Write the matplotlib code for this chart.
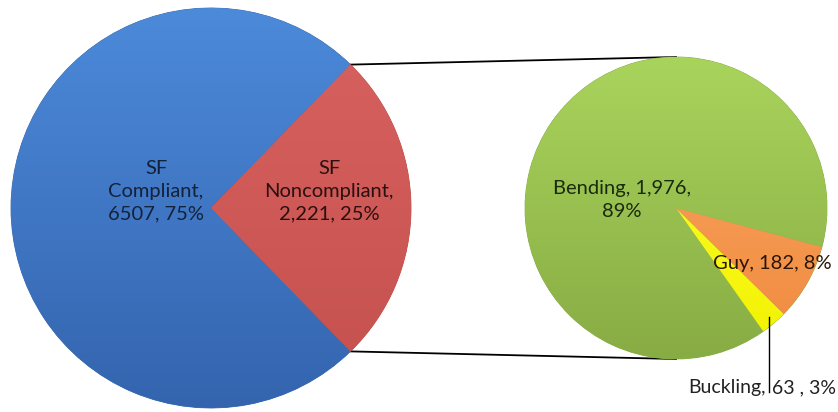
import numpy as np
import matplotlib.pyplot as plt
from matplotlib.colors import LinearSegmentedColormap

# Daten
main_labels = ['SF\nCompliant,\n6507, 75%', 'SF\nNoncompliant,\n2,221, 25%']
main_values = [6507, 2221]
main_colors = ['#4279C6', '#CF5B58']
main_grad = [('#4C8ADA', '#3464AE'), ('#D8625F', '#C4504D')]

sub_names = ['Bending', 'Buckling', 'Guy']
sub_values = [1976, 63, 182]
sub_labels = ['Bending, 1,976,\n89%', 'Buckling, 63 , 3%', 'Guy, 182, 8%']
sub_colors = ['#9CC452', '#FFFF1A', '#F8994E']
sub_grad = [('#A9D45C', '#88AC44'), ('#FFFF3A', '#F2F200'), ('#FAA865', '#F08A3E')]

plt.rcParams['font.family'] = ['Lato', 'DejaVu Sans']

fig = plt.figure(figsize=(8.38, 4.12), dpi=100)
ax = fig.add_axes([0, 0, 1, 1])


def shade(wedge, top, bottom, c, r):
    # vertikaler Verlauf, auf das Tortenstueck geclippt
    cmap = LinearSegmentedColormap.from_list('g', [bottom, top])
    grad = np.linspace(0, 1, 256).reshape(-1, 1)
    ax.imshow(grad, cmap=cmap, origin='lower', aspect='auto',
              extent=[c[0] - r, c[0] + r, c[1] - r, c[1] + r],
              clip_path=wedge, zorder=1.5)


# Linker Kreis: Noncompliant rechts zentriert
frac = main_values[1] / sum(main_values)
left_c, left_r = (211, 204), 200
w1, _ = ax.pie(main_values, colors=main_colors, startangle=180 * frac,
               center=left_c, radius=left_r, frame=True,
               wedgeprops=dict(edgecolor='#3A6AAE', linewidth=0.6))
w1[1].set_edgecolor('#B84C49')
for w, (top, bot) in zip(w1, main_grad):
    shade(w, top, bot, left_c, left_r)

# Rechter Kreis
right_c, right_r = (676, 204), 151
w2, _ = ax.pie(sub_values, colors=sub_colors, startangle=-15,
               center=right_c, radius=right_r, frame=True,
               wedgeprops=dict(edgecolor='#86AB44', linewidth=0.6))
for w, (top, bot) in zip(w2, sub_grad):
    shade(w, top, bot, right_c, right_r)

ax.set_xlim(0, 838)
ax.set_ylim(0, 412)
ax.set_aspect('equal')
ax.axis('off')

# Verbindungslinien
t1 = np.deg2rad(w1[1].theta2)
t2 = np.deg2rad(w1[1].theta1)
p_top = (left_c[0] + left_r * np.cos(t1), left_c[1] + left_r * np.sin(t1))
p_bot = (left_c[0] + left_r * np.cos(t2), left_c[1] + left_r * np.sin(t2))
ax.plot([p_top[0], right_c[0]], [p_top[1], right_c[1] + right_r], color='black', lw=1.3, zorder=0)
ax.plot([p_bot[0], right_c[0]], [p_bot[1], right_c[1] - right_r], color='black', lw=1.3, zorder=0)

# Beschriftungen
fs = 14.5
ax.text(156, 221, main_labels[0], ha='center', va='center', fontsize=fs,
        color='#14213A', linespacing=1.4, zorder=5)
ax.text(329, 221, main_labels[1], ha='center', va='center', fontsize=fs,
        color='#2A1010', linespacing=1.4, zorder=5)
ax.text(622, 212, sub_labels[0], ha='center', va='center', fontsize=fs,
        color='#1A2A0C', linespacing=1.4, zorder=5)
ax.text(772, 149, sub_labels[2], ha='center', va='center', fontsize=fs,
        color='#2A1606', zorder=5)

# Buckling-Beschriftung mit Fuehrungslinie dazwischen
mid = np.deg2rad((w2[1].theta1 + w2[1].theta2) / 2)
bx = right_c[0] + right_r * 0.95 * np.cos(mid)
by = right_c[1] + right_r * 0.95 * np.sin(mid)
ax.plot([bx, bx], [by, 20], color='black', lw=1.0, zorder=4)
name_part, value_part = sub_labels[1].split(' ', 1)
ax.text(bx - 3, 24, name_part, ha='right', va='center', fontsize=14,
        color='#222222', zorder=5)
ax.text(bx + 3, 24, value_part, ha='left', va='center', fontsize=14,
        color='#222222', zorder=5)

fig.savefig('out.png', dpi=100)
